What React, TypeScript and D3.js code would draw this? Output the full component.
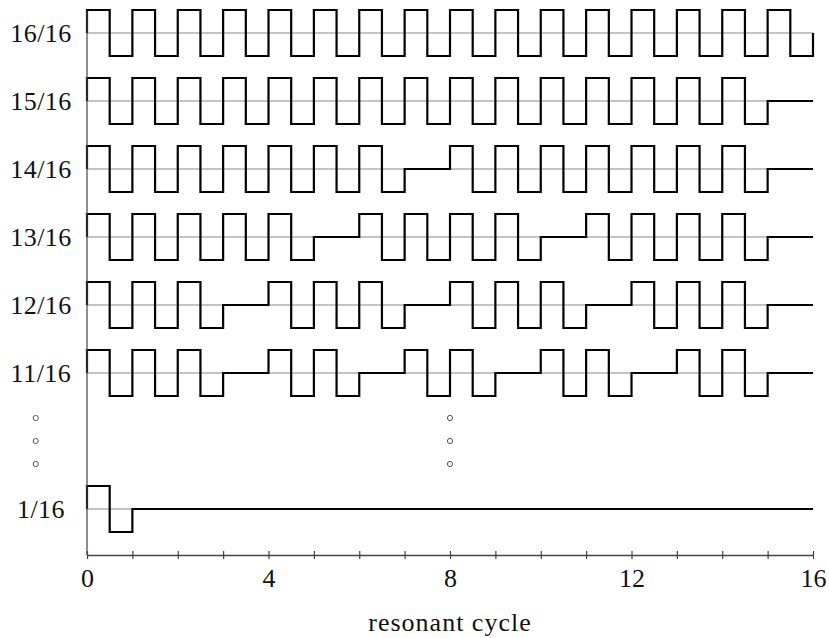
import React, { useEffect, useRef } from 'react';
import * as d3 from 'd3';

// pulse pattern per row: 1 = cycle fires, 0 = cycle skipped
const rowLabels = ['16/16', '15/16', '14/16', '13/16', '12/16', '11/16', '', '1/16'];
const pattern16 = [1, 1, 1, 1, 1, 1, 1, 1, 1, 1, 1, 1, 1, 1, 1, 1];
const pattern15 = [1, 1, 1, 1, 1, 1, 1, 1, 1, 1, 1, 1, 1, 1, 1, 0];
const pattern14 = [1, 1, 1, 1, 1, 1, 1, 0, 1, 1, 1, 1, 1, 1, 1, 0];
const pattern13 = [1, 1, 1, 1, 1, 0, 1, 1, 1, 1, 0, 1, 1, 1, 1, 0];
const pattern12 = [1, 1, 1, 0, 1, 1, 1, 0, 1, 1, 1, 0, 1, 1, 1, 0];
const pattern11 = [1, 1, 1, 0, 1, 1, 0, 1, 1, 0, 1, 1, 0, 1, 1, 0];
const pattern1 = [1, 0, 0, 0, 0, 0, 0, 0, 0, 0, 0, 0, 0, 0, 0, 0];
const patterns = [pattern16, pattern15, pattern14, pattern13, pattern12, pattern11, null, pattern1];

const xTicks = d3.range(0, 17);
const xLabels = [0, 4, 8, 12, 16];
const ellipsisColumns = [-1.13, 8];
const ellipsisOffsets = [-1, 0, 1];

const W = 829;
const H = 638;
const FONT = '"Liberation Serif", "Times New Roman", serif';

const App = () => {
  const svgRef = useRef<SVGSVGElement>(null);

  useEffect(() => {
    const svg = d3.select(svgRef.current);
    svg.selectAll('*').remove();

    const x = d3.scaleLinear().domain([0, 16]).range([87, 813]);
    const y = d3.scalePoint<number>()
      .domain(d3.range(rowLabels.length))
      .range([33, 509]);
    const amp = 23;
    const axisY = 555;

    const g = svg.append('g');

    rowLabels.forEach((label, i) => {
      const cy = y(i)!;
      const pat = patterns[i];
      if (!pat) {
        // vertical ellipsis
        ellipsisColumns.forEach(c => {
          ellipsisOffsets.forEach(o => {
            g.append('circle')
              .attr('cx', x(c))
              .attr('cy', cy + o * 23)
              .attr('r', 2.6)
              .attr('fill', 'none')
              .attr('stroke', '#555')
              .attr('stroke-width', 1);
          });
        });
        return;
      }
      const ly = d3.scaleLinear().domain([-1, 1]).range([cy + amp, cy - amp]);

      // baseline
      g.append('line')
        .attr('x1', x(0)).attr('x2', x(16))
        .attr('y1', ly(0)).attr('y2', ly(0))
        .attr('stroke', '#8a8a8a')
        .attr('stroke-width', 1.2);

      const pts: [number, number][] = [[0, 0]];
      pat.forEach((on, c) => {
        if (on) {
          pts.push([c, 1], [c + 0.5, 1], [c + 0.5, -1], [c + 1, -1]);
        } else {
          pts.push([c, 0], [c + 1, 0]);
        }
      });
      pts.push([16, 0]);

      const line = d3.line<[number, number]>()
        .x(d => x(d[0]))
        .y(d => ly(d[1]));

      g.append('path')
        .attr('d', line(pts))
        .attr('fill', 'none')
        .attr('stroke', '#000')
        .attr('stroke-width', 2.2)
        .attr('stroke-linejoin', 'miter');

      g.append('text')
        .attr('x', 41)
        .attr('y', cy + 8.5)
        .attr('text-anchor', 'middle')
        .attr('font-family', FONT)
        .attr('font-size', 26)
        .attr('letter-spacing', '0.5px')
        .attr('fill', '#111')
        .text(label);
    });

    // y axis line
    g.append('line')
      .attr('x1', x(0)).attr('x2', x(0))
      .attr('y1', 11).attr('y2', axisY)
      .attr('stroke', '#444')
      .attr('stroke-width', 1.2);

    const xAxis = d3.axisBottom(x)
      .tickValues(xTicks)
      .tickSizeOuter(0)
      .tickSizeInner(4)
      .tickFormat(d => (xLabels.includes(+d) ? String(d) : ''));

    const ax = g.append('g')
      .attr('transform', `translate(0,${axisY})`)
      .call(xAxis);
    ax.select('.domain').attr('stroke', '#444').attr('stroke-width', 1.4);
    ax.selectAll('.tick line')
      .attr('y1', -4)
      .attr('y2', 4)
      .attr('stroke', '#444')
      .attr('stroke-width', 1.2);
    ax.selectAll('.tick text')
      .attr('y', 14)
      .attr('font-family', FONT)
      .attr('font-size', 26)
      .attr('fill', '#111');

    g.append('text')
      .attr('x', 450)
      .attr('y', 631)
      .attr('text-anchor', 'middle')
      .attr('font-family', FONT)
      .attr('font-size', 26)
      .attr('letter-spacing', '1px')
      .attr('fill', '#111')
      .text('resonant cycle');
  }, []);

  return (
    <svg
      ref={svgRef}
      width={W}
      height={H}
      style={{ position: 'absolute', left: 0, top: 0, background: '#fff' }}
    />
  );
};

export default App;
